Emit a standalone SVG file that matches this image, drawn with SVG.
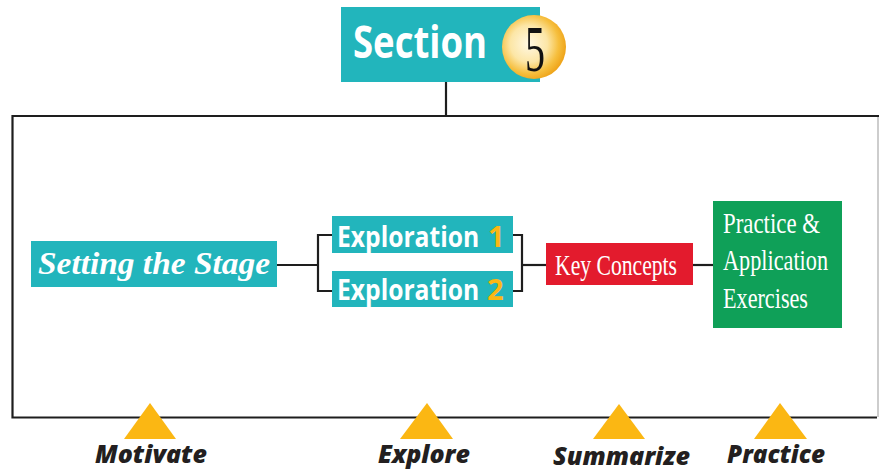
<svg xmlns="http://www.w3.org/2000/svg" width="879" height="471" viewBox="0 0 879 471">
  <defs>
    <radialGradient id="coin" cx="0.42" cy="0.45" r="0.58">
      <stop offset="0" stop-color="#FFF8E4"/>
      <stop offset="0.5" stop-color="#FCE6A6"/>
      <stop offset="0.8" stop-color="#F6BF3E"/>
      <stop offset="1" stop-color="#EFA51B"/>
    </radialGradient>
    <style>
      .wire { fill: none; stroke: #1E1E1E; stroke-width: 2.2; }
      .frame-edge { fill: none; stroke: #BDBDBD; stroke-width: 1.5; }
      .teal { fill: #22B5BC; }
      .red { fill: #E31B2D; }
      .green { fill: #0FA058; }
      .tri { fill: #FBB713; }
      .head { font-family: "Open Sans", "Liberation Sans", sans-serif; font-weight: bold; fill: #FFFFFF; }
      .serif { font-family: "Liberation Serif", "DejaVu Serif", serif; fill: #FFFFFF; }
      .stage { font-family: "Open Sans", "Liberation Sans", sans-serif; font-weight: 800; font-style: italic; fill: #231F20; font-size: 25px; }
      .num { fill: #FBB713; }
    </style>
  </defs>

  <!-- outer frame and connectors -->
  <g id="connectors">
    <line class="frame-edge" x1="878" y1="116" x2="878" y2="417"/>
    <path class="wire" d="M879 116 H12.5 V417.5 H877"/>
    <line class="wire" x1="446" y1="82" x2="446" y2="116"/>
    <line class="wire" x1="277" y1="265" x2="318" y2="265"/>
    <path class="wire" d="M333 235 H318 V291 H333"/>
    <path class="wire" d="M513 235 H522 V291 H513"/>
    <line class="wire" x1="522" y1="265" x2="546" y2="265"/>
    <line class="wire" x1="693" y1="265" x2="713" y2="265"/>
  </g>

  <g id="section">
    <rect class="teal" x="341" y="7" width="199" height="75"/>
    <text class="head" x="353" y="58" font-size="45" textLength="134" lengthAdjust="spacingAndGlyphs">Section</text>
    <circle cx="534" cy="47" r="32" fill="url(#coin)"/>
    <text x="535" y="71" font-family="Liberation Serif, DejaVu Serif, serif" font-size="66" fill="#111111" text-anchor="middle" textLength="20" lengthAdjust="spacingAndGlyphs">5</text>
  </g>

  <g id="setting-the-stage">
    <rect class="teal" x="31" y="241" width="246" height="46"/>
    <text class="serif" x="38" y="274" font-size="31" font-style="italic" font-weight="bold" textLength="232" lengthAdjust="spacingAndGlyphs">Setting the Stage</text>
  </g>

  <!-- exploration labels are condensed horizontally to fit their boxes -->
  <g id="exploration-1">
    <rect class="teal" x="332" y="216" width="181" height="37"/>
    <text class="head" transform="translate(337 247) scale(0.85 1)" font-size="29">Exploration</text>
    <text class="head num" x="488" y="247" font-size="29">1</text>
  </g>

  <g id="exploration-2">
    <rect class="teal" x="332" y="271" width="181" height="36"/>
    <text class="head" transform="translate(337 300) scale(0.85 1)" font-size="29">Exploration</text>
    <text class="head num" x="487" y="300" font-size="29">2</text>
  </g>

  <g id="key-concepts">
    <rect class="red" x="546" y="243" width="147" height="42"/>
    <text class="serif" x="555" y="275" font-size="29" textLength="122" lengthAdjust="spacingAndGlyphs">Key Concepts</text>
  </g>

  <g id="practice-application">
    <rect class="green" x="713" y="201" width="129" height="127"/>
    <text class="serif" x="723" y="233" font-size="30" textLength="97" lengthAdjust="spacingAndGlyphs">Practice &amp;</text>
    <text class="serif" x="723" y="270" font-size="30" textLength="105" lengthAdjust="spacingAndGlyphs">Application</text>
    <text class="serif" x="723" y="308" font-size="30" textLength="85" lengthAdjust="spacingAndGlyphs">Exercises</text>
  </g>

  <g id="motivate">
    <polygon class="tri" points="150,403 176,439 124,439"/>
    <text class="stage" x="95" y="463" textLength="112" lengthAdjust="spacingAndGlyphs">Motivate</text>
  </g>

  <g id="explore">
    <polygon class="tri" points="427,403 453,439 400,439"/>
    <text class="stage" x="378" y="463" textLength="92" lengthAdjust="spacingAndGlyphs">Explore</text>
  </g>

  <g id="summarize">
    <polygon class="tri" points="619,404 645,439 593,439"/>
    <text class="stage" x="553" y="465" textLength="137" lengthAdjust="spacingAndGlyphs">Summarize</text>
  </g>

  <g id="practice">
    <polygon class="tri" points="780,403 807,439 754,439"/>
    <text class="stage" x="727" y="463" textLength="98" lengthAdjust="spacingAndGlyphs">Practice</text>
  </g>
</svg>
